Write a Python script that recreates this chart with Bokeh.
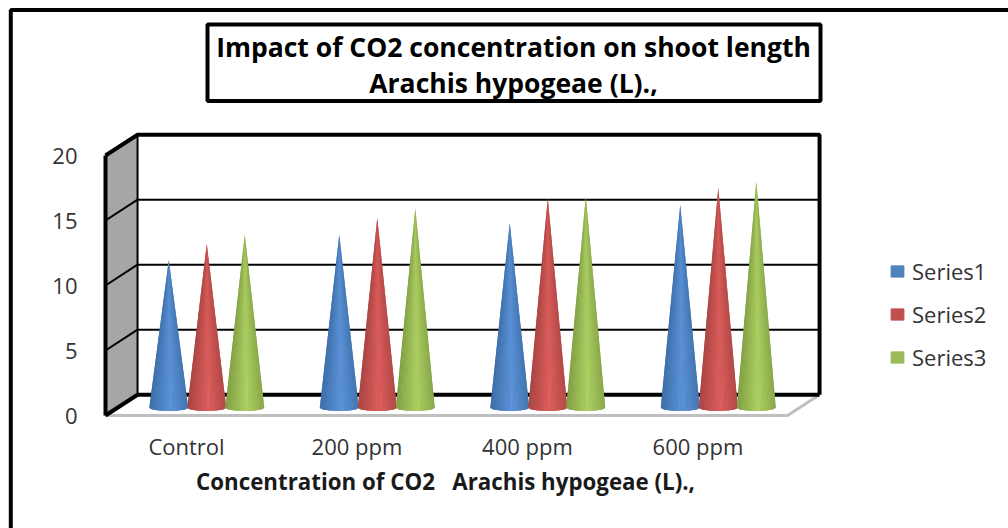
from bokeh.plotting import figure
from bokeh.models import (Range1d, BoxAnnotation, Label, Legend, LegendItem,
                          FixedTicker, ColumnDataSource)
from bokeh.embed import file_html
from bokeh.resources import INLINE
import math

categories = ["Control", "200 ppm", "400 ppm", "600 ppm"]
series_names = ["Series1", "Series2", "Series3"]
series1 = [11.35, 13.3, 14.2, 15.6]
series2 = [12.6, 14.6, 16.1, 16.9]
series3 = [13.3, 15.3, 16.2, 17.4]
y_ticks = [0, 5, 10, 15, 20]
title_lines = ["Impact of CO2 concentration on shoot length", "Arachis hypogeae (L).,"]
x_title = "Concentration of CO2\u00a0\u00a0\u00a0Arachis hypogeae (L).,"
base_colors = ["#4F81BD", "#C0504D", "#9BBB59"]
edge_shades = ["#3C6CA6", "#A64442", "#7F9C42"]
mid_shades = ["#5D96DC", "#E0605E", "#B0D264"]

FONT = "Open Sans"
TXT = "#333333"
W, H = 1008, 528
X_PX, Y_PX = 170.5, 13.0           # pixels per data unit
X0, Y0 = 105, 415                  # where the origin lies on the canvas

# 3D projection offsets (data units): depth of the chart box
DX, DY = 0.188, 1.6
N = len(categories)

p = figure(width=W, height=H, output_backend="svg", toolbar_location=None,
           x_range=Range1d(-X0 / X_PX, (W - X0) / X_PX),
           y_range=Range1d(-(H - Y0) / Y_PX, Y0 / Y_PX),
           min_border=0, background_fill_color="white", border_fill_color="white")
p.outline_line_color = None
p.grid.visible = False

# ---- axes
ya = p.yaxis[0]
ya.fixed_location = 0
ya.ticker = FixedTicker(ticks=y_ticks)
ya.bounds = (0, 20)
ya.axis_line_color = "black"
ya.axis_line_width = 4
ya.major_tick_line_color = None
ya.minor_tick_line_color = None
ya.major_label_standoff = 22
ya.major_label_text_font = FONT
ya.major_label_text_font_size = "22px"
ya.major_label_text_color = TXT

xa = p.xaxis[0]
xa.fixed_location = 0
tick_pos = [i + 0.475 for i in range(N)]
xa.ticker = FixedTicker(ticks=tick_pos)
xa.major_label_overrides = dict(zip(tick_pos, categories))
xa.axis_line_color = None
xa.major_tick_line_color = None
xa.minor_tick_line_color = None
xa.major_label_standoff = 9
xa.major_label_text_font = FONT
xa.major_label_text_font_size = "22px"
xa.major_label_text_color = TXT

# ---- walls
p.patch([0, DX, DX, 0], [0, DY, 20 + DY, 20], fill_color="#A6A6A6", line_color=None)
p.patch([0, N, N + DX, DX], [0, 0, DY, DY], fill_color="white", line_color="#BFBFBF", line_width=3)
inner = [t for t in y_ticks if 0 < t < 20]
p.multi_line([[DX, N + DX] for _ in inner], [[t + DY, t + DY] for t in inner], line_color="black", line_width=2)
p.multi_line([[0, DX] for _ in inner], [[t, t + DY] for t in inner], line_color="black", line_width=2)
p.line([DX, DX], [DY, 20 + DY], line_color="black", line_width=2)
p.line([0, DX, N + DX, N + DX], [20, 20 + DY, 20 + DY, DY], line_color="black", line_width=4)
p.line([0, DX], [0, DY], line_color="black", line_width=4)
p.line([DX, N + DX], [DY, DY], line_color="black", line_width=4)


def mix(a, b, t):
    ca = [int(a[i:i + 2], 16) for i in (1, 3, 5)]
    cb = [int(b[i:i + 2], 16) for i in (1, 3, 5)]
    return "#%02X%02X%02X" % tuple(round(x + (y - x) * t) for x, y in zip(ca, cb))


# ---- cones
HALF_W, BASE_Y, ELL_H, SPACING = 0.114, 0.6, 0.25, 0.223
SLICES = 30
for s, vals in enumerate([series1, series2, series3]):
    xs, ys, cols, ux, uy = [], [], [], [], []
    for g, v in enumerate(vals):
        cx = g + 0.5 + DX / 2 + (s - 1) * SPACING
        outline_u = [-1 + 2 * k / SLICES for k in range(SLICES + 1)]
        ux.append([cx] + [cx + u * HALF_W for u in outline_u])
        uy.append([v + BASE_Y] + [BASE_Y - ELL_H * math.sqrt(max(0, 1 - u * u)) for u in outline_u])
        for k in range(SLICES):
            u0 = -1 + 2 * k / SLICES
            u1 = -1 + 2 * (k + 1) / SLICES
            um = (u0 + u1) / 2
            xs.append([cx, cx + u0 * HALF_W, cx + u1 * HALF_W])
            ys.append([v + BASE_Y,
                       BASE_Y - ELL_H * math.sqrt(max(0, 1 - u0 * u0)),
                       BASE_Y - ELL_H * math.sqrt(max(0, 1 - u1 * u1))])
            cols.append(mix(edge_shades[s], mid_shades[s], max(0, 1 - abs(um - 0.1) / 1.1)))
    p.patches(ux, uy, fill_color=base_colors[s], line_color=None)
    src = ColumnDataSource(dict(xs=xs, ys=ys, c=cols))
    p.patches("xs", "ys", source=src, fill_color="c", line_color=None)

# ---- legend
items = []
nan = float("nan")
for name, col in zip(series_names, base_colors):
    r = p.quad(left=[nan], right=[nan], top=[nan], bottom=[nan], fill_color=col, line_color=col)
    items.append(LegendItem(label=name, renderers=[r]))
legend = Legend(items=items, location=(889, 156), orientation="vertical",
                glyph_width=16, glyph_height=14, label_standoff=7, spacing=13,
                label_height=27, label_text_font=FONT, label_text_font_size="22px",
                label_text_color=TXT, border_line_color=None, background_fill_alpha=0,
                margin=0, padding=0)
p.add_layout(legend, "center")

# ---- frames (screen units: x from the left, y from the bottom of the canvas)
def frame_box(l, r, t, b):
    return BoxAnnotation(left=l, right=r, top=H - t, bottom=H - b,
                         left_units="screen", right_units="screen", top_units="screen", bottom_units="screen",
                         fill_alpha=0, line_color="black", line_alpha=1, line_width=4)

p.add_layout(frame_box(10.3, 1030, 9.5, 560))
p.add_layout(frame_box(207, 820, 24, 100.5))

# ---- titles
for text, sy in zip(title_lines, [46.5, 82.5]):
    p.add_layout(Label(x=513, y=H - sy, x_units="screen", y_units="screen", text=text,
                       text_align="center", text_baseline="middle", text_font=FONT,
                       text_font_style="bold", text_font_size="26.5px", text_color="black"))
p.add_layout(Label(x=445, y=H - 481, x_units="screen", y_units="screen", text=x_title,
                   text_align="center", text_baseline="middle", text_font=FONT,
                   text_font_style="bold", text_font_size="22.3px", text_color="#1a1a1a"))

open("out.html", "w").write(file_html(p, INLINE))
